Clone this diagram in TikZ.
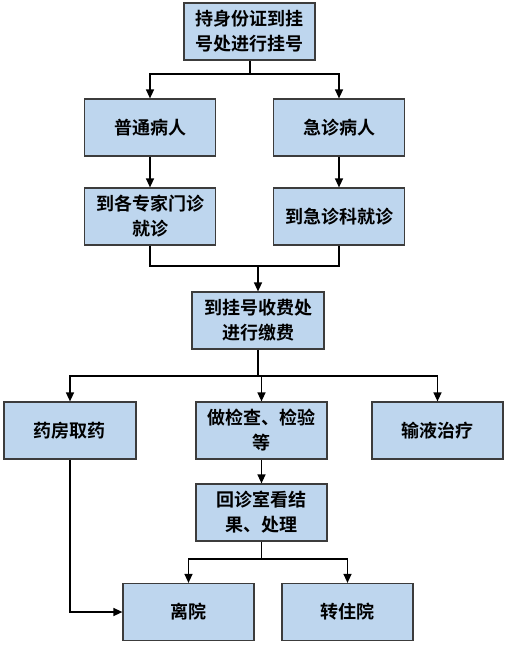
\documentclass[tikz,border=0pt]{standalone}
\usepackage{fontspec}
\newfontfamily\cjkb{Noto Sans CJK SC Bold}
\usetikzlibrary{arrows.meta}
\definecolor{boxfill}{RGB}{190,214,238}
\definecolor{boxline}{RGB}{60,60,60}
\tikzset{
  flowbox/.style={draw=boxline, fill=boxfill, line width=1.2pt, rectangle,
    minimum width=131pt, minimum height=57pt, inner sep=0pt, align=center,
    font=\cjkb\fontsize{18}{25}\selectfont},
  conn/.style={line width=1.3pt, black},
  arr/.style={conn, -{Triangle[length=9pt,width=8pt]}}
}
\begin{document}
\begin{tikzpicture}[x=1pt,y=-1pt]
\useasboundingbox (0,0) rectangle (509,649);
\node[flowbox] (b1) at (249.5,31.5) {持身份证到挂\\号处进行挂号};
\node[flowbox] (b2) at (150,127.5) {普通病人};
\node[flowbox] (b3) at (339,127.5) {急诊病人};
\node[flowbox] (b4) at (150,216.5) {到各专家门诊\\就诊};
\node[flowbox] (b5) at (339,216.5) {到急诊科就诊};
\node[flowbox, minimum width=132pt] (b6) at (258,320.5) {到挂号收费处\\进行缴费};
\node[flowbox, minimum width=132pt] (b7) at (70,430.5) {药房取药};
\node[flowbox] (b8) at (261.5,430.5) {做检查、检验\\等};
\node[flowbox] (b9) at (437.5,430.5) {输液治疗};
\node[flowbox] (b10) at (261.5,512.5) {回诊室看结\\果、处理};
\node[flowbox] (b11) at (188.5,612) {离院};
\node[flowbox] (b12) at (347.5,612) {转住院};

\coordinate (m1) at (250,74);
\coordinate (m2) at (258,266);
\coordinate (m3) at (258,376);
\coordinate (m4) at (261.5,559);

\draw[conn] (b1.south -| m1) -- (m1);
\draw[arr] (m1) -| (b2.north);
\draw[arr] (m1) -| (b3.north);
\draw[arr] (b2) -- (b4);
\draw[arr] (b3) -- (b5);
\draw[conn] (b4.south) |- (m2) -| (b5.south);
\draw[arr] (m2) -- (b6.north);
\draw[conn] (b6.south) -- (m3);
\draw[arr] (m3) -| (b7.north);
\draw[arr] (m3) -| (b9.north);
\draw[arr] (m3 -| b8.north) -- (b8.north);
\draw[arr] (b8) -- (b10);
\draw[conn] (b10.south) -- (m4);
\draw[arr] (m4) -| (b11.north);
\draw[arr] (m4) -| (b12.north);
\draw[arr] (b7.south) |- (b11.west);
\end{tikzpicture}
\end{document}
